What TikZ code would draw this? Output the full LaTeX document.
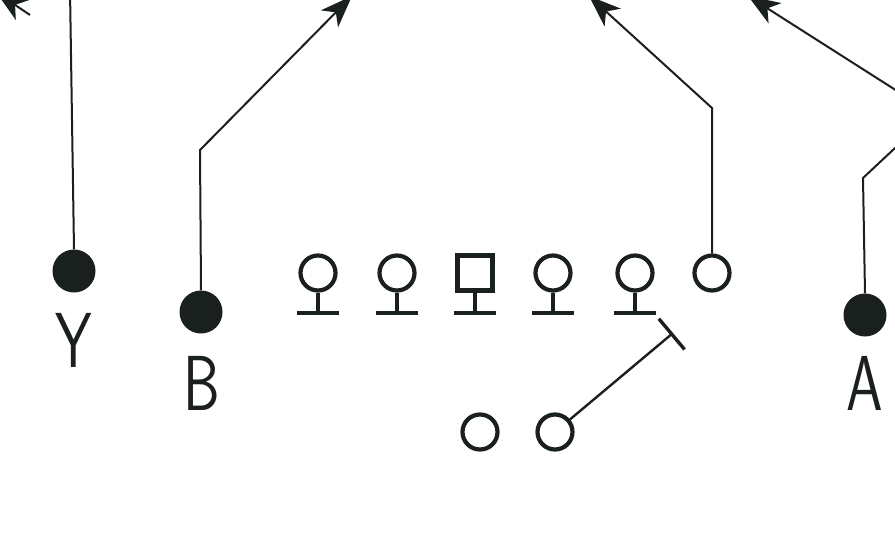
\documentclass[tikz,border=0pt]{standalone}
\usepackage{graphicx}
\usetikzlibrary{arrows.meta}
\definecolor{ink}{RGB}{25,32,30}
\tikzset{
  player/.style={circle,draw=ink,line width=4.2pt,minimum size=35pt,inner sep=0pt},
  center/.style={rectangle,draw=ink,line width=4.2pt,minimum size=35pt,inner sep=0pt},
  skill/.style={circle,fill=ink,minimum size=43pt,inner sep=0pt},
  route/.style={draw=ink,line width=2pt,-{Stealth[length=32pt,width=24pt,inset=9pt]}},
  plain/.style={draw=ink,line width=2pt},
  stance/.style={draw=ink,line width=3.4pt},
  block/.style={draw=ink,line width=2.4pt,-{Bar[width=40pt,line width=3.4pt]}},
  lbl/.style={anchor=base,text=ink,inner sep=0pt,font=\fontsize{78}{78}\sffamily}
}
\begin{document}
\begin{tikzpicture}[x=1pt,y=-1pt]
\useasboundingbox (0,0) rectangle (895,552);
\clip (0,0) rectangle (895,552);
\fill[white] (0,0) rectangle (895,552);
% skill players
\node[skill] (Y) at (74,271) {};
\node[skill] (B) at (201,312) {};
\node[skill] (A) at (865,315) {};
\node[lbl] (Yl) at (74,367) {\scalebox{0.75}[1]{Y}};
\node[lbl] (Bl) at (202,410) {\scalebox{0.75}[1]{B}};
\node[lbl] (Al) at (865,410) {\scalebox{0.75}[1]{A}};
% line
\foreach \n/\x in {L1/318,L2/397,R1/553,R2/635}{
  \node[player] (\n) at (\x,273) {};
  \draw[stance] (\n.south) -- (\x,313) (\x-21,313) -- (\x+21,313);
}
\node[center] (C) at (475,273) {};
\draw[stance] (C.south) -- (475,313) (454,313) -- (496,313);
\node[player] (TE) at (712,273) {};
% backs
\node[player] (QB) at (480,432) {};
\node[player] (RB) at (555,432) {};
% routes
\coordinate (ytop) at (70,-10);
\draw[plain] (Y.north) -- (ytop);
\coordinate (tl1) at (30,15);
\coordinate (tl2) at (-4,-8);
\draw[route] (tl1) -- (tl2);
\coordinate (bb) at (200,150);
\coordinate (bt) at (352,-4);
\draw[route] (B.north) -- (bb) -- (bt);
\coordinate (teb) at (712,108);
\coordinate (tet) at (589,-4);
\draw[route] (TE.north) -- (teb) -- (tet);
\coordinate (trs) at (905,96);
\coordinate (trt) at (748,-4);
\draw[route] (trs) -- (trt);
\coordinate (ab) at (863,178);
\coordinate (at2) at (910,134);
\draw[plain] (A.north) -- (ab) -- (at2);
\coordinate (blk) at (673,333);
\draw[block] (RB) -- (blk);
\end{tikzpicture}
\end{document}
